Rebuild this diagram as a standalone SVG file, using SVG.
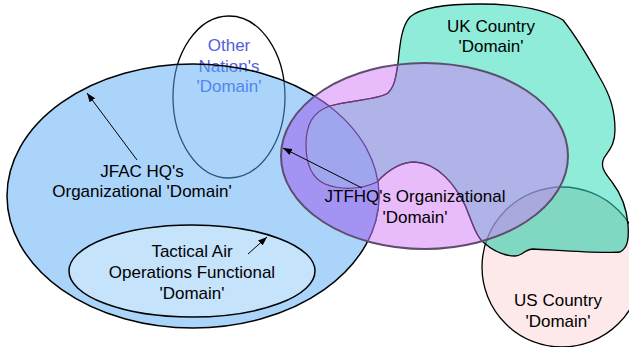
<svg xmlns="http://www.w3.org/2000/svg" width="629" height="347" viewBox="0 0 629 347">
<style>
text{font-family:"Liberation Sans",Arial,sans-serif;font-size:17px;fill:#000;text-anchor:middle}
.lbl-other{fill:#5060e0}
.arrow{stroke:#000;stroke-width:1;fill:none;marker-end:url(#ah)}
</style>
<defs>
<marker id="ah" viewBox="0 0 10 10" refX="10" refY="5" markerWidth="9" markerHeight="9" markerUnits="userSpaceOnUse" orient="auto"><path d="M0,1.2 L10,5 L0,8.8 Z" fill="#000"/></marker>
<path id="ukp" d="M398,63 C396,76 395,86 388,93 C378,100 350,100 330,106 C312,112 306,125 306,145 C306,165 312,178 325,184 C340,190 360,190 377,182 C388,170 400,162 415,162 C438,163 455,185 465,205 C472,222 476,236 483,242 C492,250 503,256 515,256 C522,256 525,249 533,249 C555,250 600,254 620,252 C628,248 629,238 628,225 C627,210 622,195 612,182 C604,172 600,166 604,158 C609,150 615,145 615,130 C615,110 610,95 600,78 C590,60 575,35 563,20 C545,10 515,4 480,4 C445,4 420,8 410,17 C401,27 400,45 398,63 Z"/>
<clipPath id="clipUK"><use href="#ukp"/></clipPath>
<clipPath id="clipJTF"><ellipse cx="424.5" cy="156" rx="143.5" ry="93"/></clipPath>
<clipPath id="clipJFAC"><ellipse cx="193" cy="196" rx="186" ry="132"/></clipPath>
</defs>

<g id="other-nation">
<ellipse cx="229" cy="97" rx="56" ry="81" fill="#fff" stroke="#000" stroke-width="1.3"/>
<text class="lbl-other" x="229" y="51">Other</text>
<text class="lbl-other" x="229" y="72">Nation's</text>
<text class="lbl-other" x="229" y="92">'Domain'</text>
</g>

<g id="jfac">
<ellipse cx="193" cy="196" rx="186" ry="132" fill="rgb(86,170,246)" fill-opacity="0.5" stroke="#000" stroke-width="1.5"/>
</g>

<g id="tactical">
<ellipse cx="192" cy="271" rx="123" ry="46" fill="#c6e3fc" stroke="#000" stroke-width="1.5"/>
<text x="192" y="257">Tactical Air</text>
<text x="192" y="278">Operations Functional</text>
<text x="192" y="299">'Domain'</text>
</g>

<g id="us">
<circle cx="562" cy="267" r="80" fill="#fde9e9" stroke="#000" stroke-width="1.3"/>
</g>

<g id="uk">
<use href="#ukp" fill="#8eecd8"/>
<g clip-path="url(#clipUK)">
<circle cx="562" cy="267" r="80" fill="#80d8c2" stroke="#1a7a6a" stroke-width="1.3"/>
</g>
<use href="#ukp" fill="none" stroke="#000" stroke-width="1.3"/>
</g>

<g id="jtfhq">
<ellipse cx="424.5" cy="156" rx="143.5" ry="93" fill="rgb(209,121,247)" fill-opacity="0.5"/>
<g clip-path="url(#clipJTF)">
<ellipse cx="193" cy="196" rx="186" ry="132" fill="#a394f4"/>
<g clip-path="url(#clipJFAC)">
<use href="#ukp" fill="#9fa6ee"/>
</g>
<use href="#ukp" fill="none" stroke="#6a3c7c" stroke-width="1.2"/>
<ellipse cx="193" cy="196" rx="186" ry="132" fill="none" stroke="#6a4a9a" stroke-width="1.3"/>
</g>
<ellipse cx="424.5" cy="156" rx="143.5" ry="93" fill="none" stroke="#5e4e6e" stroke-width="2"/>
</g>

<g id="connectors">
<line class="arrow" x1="137" y1="160" x2="87" y2="93"/>
<line class="arrow" x1="362" y1="188" x2="283" y2="148"/>
<line class="arrow" x1="248" y1="254" x2="267" y2="237"/>
</g>

<g id="labels">
<text x="142" y="177">JFAC HQ's</text>
<text x="142" y="197">Organizational 'Domain'</text>
<text x="415" y="202">JTFHQ's Organizational</text>
<text x="415" y="223">'Domain'</text>
<text x="491" y="32">UK Country</text>
<text x="491" y="52">'Domain'</text>
<text x="558" y="306">US Country</text>
<text x="558" y="327">'Domain'</text>
</g>
</svg>
